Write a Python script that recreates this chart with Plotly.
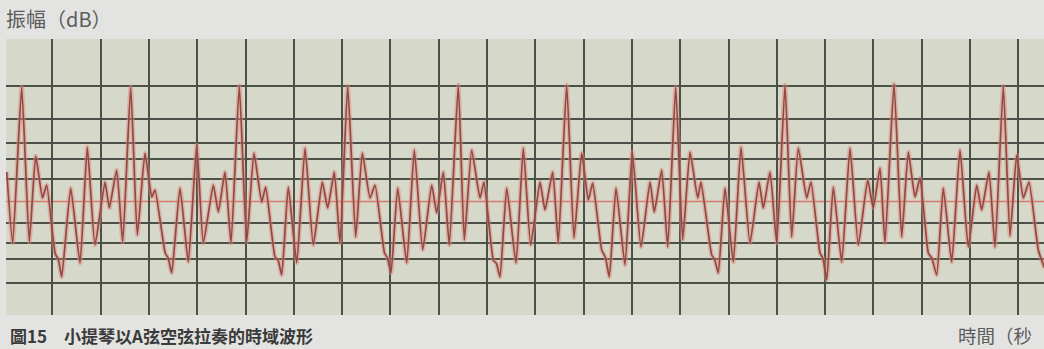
import plotly.graph_objects as go

# Time axis in samples (~48.3 samples per 1 ms grid cell), amplitude in arbitrary units
t_samples = [
    2.7, 8.7, 17.7,
    25.3, 31.7, 38.5, 42.7, 51, 54.5, 57.7, 66.7, 76, 83.3, 91, 101, 105.3, 112.7, 118.7, 126.7,
    133.3, 141, 147.7, 151, 161.2, 164.2, 167.7, 176, 184.3, 192.7, 199.3, 209.3, 214.3, 221, 227, 235.3,
    242.7, 250, 257.7, 261.7, 271, 274.2, 277.7, 284.3, 292.7, 301, 309.3, 318.3, 323.7, 330.3, 336, 343.7,
    351.7, 358.3, 366, 371, 380.5, 383.5, 387, 393.7, 402.7, 410.3, 418.7, 427.7, 432.7, 439.3, 445.3, 454.3,
    460.3, 467.7, 476, 480, 489.3, 492.5, 496, 502.7, 512, 519.3, 526.7, 536, 541, 548.7, 554.3, 562.7,
    570, 577.7, 584.3, 588.7, 597.7, 601.5, 605.3, 612, 621, 628.3, 637, 646, 650.3, 657.7, 663.7, 671.7,
    678.7, 686, 693.7, 697, 707.7, 710.7, 714.3, 721, 729.3, 737, 746, 755, 759.3, 766, 772.7, 781,
    787.7, 794.3, 802.7, 807, 816, 819, 822.7, 829.3, 837.7, 846, 854.3, 863.7, 869.3, 876, 881, 890,
    897.7, 904.3, 911, 916, 924.3, 928, 932.7, 939.3, 947.7, 956, 964.3, 972.7, 977.7, 985, 991, 999.3,
    1006, 1012.7, 1019.3, 1025, 1034.3, 1040.5,
]
amplitude = [
    29.5, -41.5, 114.5,
    -40.5, 45.5, 3.5, 16.5, -51.5, -58.5, -75.5, 13.5, -61.5, 54.5, -43.5, 19.5, -6.5, 31.5, -40.5, 114.5,
    -33.5, 48.5, 4.5, 11.5, -51.5, -56.5, -71.5, 13.5, -60.5, 56.5, -41.5, 16.5, -10.5, 29.5, -41.5, 115.5,
    -40.5, 48.5, -0.5, 14.5, -55.5, -59, -73.5, 14.5, -61.5, 53.5, -43.5, 19.5, -6.5, 29.5, -41.5, 115.5,
    -35.5, 48.5, 3.5, 16.5, -51.5, -56.5, -71.5, 13.5, -61.5, 51.5, -48.5, 16.5, -11.5, 29.5, -43.5, 116.5,
    -38.5, 51.5, 3.5, 19.5, -58.5, -62, -75.5, 13.5, -61.5, 53.5, -43.5, 19.5, -8.5, 29.5, -41.5, 116.5,
    -36.5, 48.5, 1.5, 18.5, -48.5, -56, -75.5, 13.5, -63.5, 49.5, -45.5, 19.5, -10.5, 31.5, -45.5, 114.5,
    -38.5, 49.5, 3.5, 19.5, -53.5, -58, -71.5, 13.5, -60.5, 54.5, -41.5, 19.5, -6.5, 29.5, -41.5, 116.5,
    -35.5, 53.5, 3.5, 19.5, -51.5, -57, -78.5, 14.5, -60.5, 53.5, -43.5, 21.5, -6.5, 33.5, -41.5, 117.5,
    -35.5, 49.5, 4.5, 23.5, -51.5, -57, -73.5, 13.5, -60.5, 51.5, -45.5, 16.5, -8.5, 29.5, -45.5, 115.5,
    -34.5, 46.5, 3.5, 19.5, -48.5, -66.5,
]

h_grid = [-81.2, -57.8, -41.2, -21.2, 22.2, 42.2, 58.8, 82.2, 115.5, 161.5]
center_level = 0
grid_step = 48.3

title_text = "振幅（dB）"
caption_text = "圖15　小提琴以A弦空弦拉奏的時域波形"
xlabel_text = "時間（秒"

fig = go.Figure()
fig.add_trace(go.Scatter(
    x=t_samples, y=amplitude, mode="lines",
    line=dict(color="rgba(226,138,126,0.5)", width=4.5, shape="spline", smoothing=0.45),
    hoverinfo="skip", showlegend=False,
))
fig.add_trace(go.Scatter(
    x=t_samples, y=amplitude, mode="lines",
    line=dict(color="#8f4a44", width=1.7, shape="spline", smoothing=0.45),
    showlegend=False,
))

fig.add_hline(y=center_level, line=dict(color="#d8796e", width=1.3), layer="below")

fig.update_layout(
    width=1044, height=349, autosize=False,
    margin=dict(l=6, r=0, t=39, b=34),
    paper_bgcolor="#e3e4e1",
    plot_bgcolor="#d6d8ca",
    xaxis=dict(
        range=[2, 1040], tick0=0, dtick=grid_step,
        showgrid=True, gridcolor="#4b5049", gridwidth=2,
        showticklabels=False, zeroline=False, showline=False, ticks="",
        fixedrange=True,
    ),
    yaxis=dict(
        range=[-113.5, 162.5], tickmode="array", tickvals=h_grid,
        showgrid=True, gridcolor="#4b5049", gridwidth=1.8,
        showticklabels=False, zeroline=False,
        showline=False, ticks="", fixedrange=True,
    ),
    font=dict(family="Noto Sans CJK TC"),
    annotations=[
        dict(text=title_text, xref="paper", yref="paper", x=0, y=1.076,
             xanchor="left", yanchor="middle", xshift=-2, showarrow=False,
             font=dict(size=20, color="#5c5c5c", family="Noto Sans CJK TC")),
        dict(text="<b>" + caption_text + "</b>", xref="paper", yref="paper", x=0, y=-0.076,
             xanchor="left", yanchor="middle", xshift=2, showarrow=False,
             font=dict(size=17, color="#3a3a3a", family="Noto Sans CJK TC")),
        dict(text=xlabel_text, xref="paper", yref="paper", x=(956 - 6) / 1038, y=-0.074,
             xanchor="left", yanchor="middle", showarrow=False,
             font=dict(size=18.5, color="#5c5c5c", family="Noto Sans CJK TC")),
    ],
)

fig.write_html(
    "out.html",
    config={"displayModeBar": False},
    post_script="document.body.style.margin='0';document.body.style.background='#e3e4e1';document.body.style.overflow='hidden';",
)
